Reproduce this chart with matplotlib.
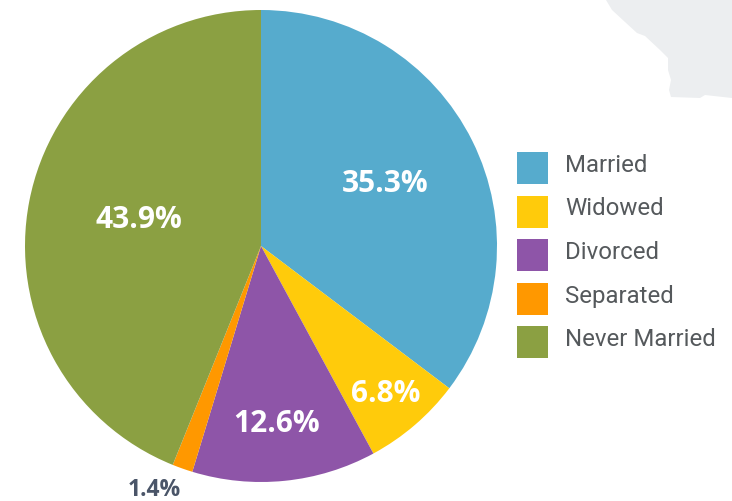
import matplotlib
matplotlib.use('Agg')
from matplotlib import pyplot as plt
from matplotlib.patches import Polygon

W, H = 732, 501

categories = ['Married', 'Widowed', 'Divorced', 'Separated', 'Never Married']
shares = [35.3, 6.8, 12.6, 1.4, 43.9]
colors = ['#56abcd', '#ffcb0b', '#8e55a8', '#ff9800', '#8ba042']

# label centres, in pixels from the top left of the picture
label_x = [385, 386, 277, 154, 139]
label_y = [184, 394, 424, 489.5, 220]
label_colors = ['white', 'white', 'white', '#4a5568', 'white']
label_sizes = [21.5, 21.5, 21.5, 16.5, 21.5]

# faint map shape in the top right corner
shape_x = [606, 612, 625, 637, 645, 660, 668, 668, 671, 669, 671, 700, 705, 732, 732]
shape_y = [0, 10, 22, 33, 36, 50, 58, 70, 80, 90, 97, 98, 95, 98, 0]

fig = plt.figure(figsize=(W / 100, H / 100), dpi=100)
ax = fig.add_axes([0, 0, 1, 1])

ax.add_patch(Polygon([(x, H - y) for x, y in zip(shape_x, shape_y)], closed=True,
                     facecolor='#eceef0', edgecolor='none'))

wedges, _ = ax.pie(shares, colors=colors, startangle=90, counterclock=False,
                   center=(261, H - 246), radius=236, frame=False)

ax.set_xlim(0, W)
ax.set_ylim(0, H)
ax.set_aspect('equal')
ax.axis('off')

for i, share in enumerate(shares):
    ax.text(label_x[i], H - label_y[i], '%.1f%%' % share, color=label_colors[i],
            fontsize=label_sizes[i], fontweight='bold', family='Open Sans',
            ha='center', va='center')

leg = ax.legend(wedges, categories, loc='upper left', bbox_to_anchor=(517, H - 152),
                bbox_transform=ax.transData, frameon=False, borderpad=0, borderaxespad=0,
                prop={'family': 'Roboto', 'size': 17.3}, labelcolor='#55595c',
                handlelength=1.29, handleheight=1.675, handletextpad=0.71, labelspacing=0.48)
# legend text sits a little above the middle of its swatch
for t in leg.get_texts():
    t.set_position((0, 4))

fig.savefig('out.png', dpi=100)
